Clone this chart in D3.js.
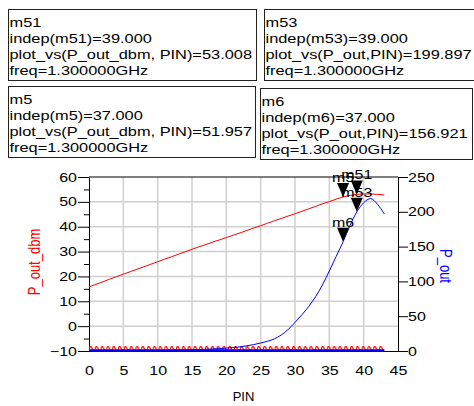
<!DOCTYPE html>
<html>
<head>
<meta charset="utf-8">
<script src="https://cdn.jsdelivr.net/npm/d3@7"></script>
<style>
  body { margin: 0; background: #fff; }
  svg { display: block; font-family: "Liberation Sans", Arial, sans-serif; }
</style>
</head>
<body>
<div id="chart"></div>
<script>
// swept input power, dBm
const pin = [0,1,2,3,4,5,6,7,8,9,10,11,12,13,14,15,16,17,18,19,20,21,22,23,24,25,26,27,28,29,30,31,32,33,34,35,36,37,38,39,40,41,42,43];
// P_out_dbm (left axis)
const poutDbm = [15.8,16.8,17.8,18.9,19.9,20.9,21.9,22.9,23.9,24.9,25.9,26.9,27.9,28.9,29.9,30.9,31.9,32.8,33.8,34.7,35.6,36.6,37.5,38.5,39.5,40.4,41.4,42.4,43.3,44.3,45.2,46.2,47.2,48.2,49.2,50.1,51.1,51.957,52.6,53.008,53.2,53.2,53.0,52.8];
// P_out in W (right axis)
const pout = [0.1,0.1,0.1,0.2,0.2,0.3,0.3,0.4,0.5,0.6,0.7,0.8,1.0,1.2,1.4,1.7,2.0,2.4,2.9,3.5,4.2,5.0,6.0,7.5,9.2,11.5,14,17.5,23,31,41,52,64,78,95,115,136,156.921,180,199.897,213,219,211,197];

const xTicks = [0,5,10,15,20,25,30,35,40,45];
const leftTicks = [-10,0,10,20,30,40,50,60];
const leftMinor = [-5,5,15,25,35,45,55];
const rightTicks = [0,50,100,150,200,250];

const markers = [
  {name: "m5",  x: 37, y: 51.957,  axis: "left"},
  {name: "m51", x: 39, y: 53.008,  axis: "left"},
  {name: "m6",  x: 37, y: 156.921, axis: "right"},
  {name: "m53", x: 39, y: 199.897, axis: "right"}
];

const boxes = [
  {x: 8,   y: 9,  w: 248, h: 71, lines: ["m51", "indep(m51)=39.000", "plot_vs(P_out_dbm, PIN)=53.008", "freq=1.300000GHz"]},
  {x: 264, y: 9,  w: 220, h: 71, lines: ["m53", "indep(m53)=39.000", "plot_vs(P_out,PIN)=199.897", "freq=1.300000GHz"]},
  {x: 8,   y: 86, w: 247, h: 71, lines: ["m5", "indep(m5)=37.000", "plot_vs(P_out_dbm, PIN)=51.957", "freq=1.300000GHz"]},
  {x: 260, y: 88, w: 212, h: 71, lines: ["m6", "indep(m6)=37.000", "plot_vs(P_out,PIN)=156.921", "freq=1.300000GHz"]}
];

const W = 474, H = 406;
const margin = {top: 177, right: 76, bottom: 55, left: 89};
const SX = 1.28; // text in the picture is a bit wide

const x = d3.scaleLinear().domain([0, 45]).range([margin.left, W - margin.right]);
const yL = d3.scaleLinear().domain([-10, 60]).range([H - margin.bottom, margin.top]);
const yR = d3.scaleLinear().domain([0, 250]).range([H - margin.bottom, margin.top]);

const svg = d3.select("#chart").append("svg")
  .attr("width", W).attr("height", H)
  .attr("viewBox", `0 0 ${W} ${H}`);

// wide text helper
function wide(sel) {
  sel.each(function() {
    const t = d3.select(this);
    const tx = +t.attr("x") || 0, ty = +t.attr("y") || 0;
    t.attr("x", null).attr("y", null)
      .attr("transform", `translate(${tx},${ty}) scale(${SX},1)`);
  });
}

// marker readout boxes
const bx = svg.append("g").attr("class", "boxes");
boxes.forEach(b => {
  bx.append("rect")
    .attr("x", b.x + 0.5).attr("y", b.y + 0.5)
    .attr("width", b.w).attr("height", b.h)
    .attr("fill", "#fff").attr("stroke", "#222").attr("stroke-width", 1);
  bx.selectAll(null).data(b.lines).enter().append("text")
    .attr("x", b.x + 1.5)
    .attr("y", (d, i) => b.y + 18 + i * 16)
    .attr("font-size", 12.8)
    .attr("fill", "#000")
    .text(d => d)
    .call(wide);
});

// grid
const grid = svg.append("g").attr("class", "grid");
grid.selectAll(".gx").data(xTicks.slice(1, -1)).enter().append("line")
  .attr("x1", d => x(d)).attr("x2", d => x(d))
  .attr("y1", yL(60)).attr("y2", yL(-10))
  .attr("stroke", "#cfcfcf").attr("stroke-width", 1.5);
grid.selectAll(".gy").data(leftTicks.slice(1, -1)).enter().append("line")
  .attr("x1", x(0)).attr("x2", x(45))
  .attr("y1", d => yL(d)).attr("y2", d => yL(d))
  .attr("stroke", "#cfcfcf").attr("stroke-width", 1.5);

// top frame line
svg.append("line")
  .attr("x1", x(0)).attr("x2", x(45))
  .attr("y1", yL(60)).attr("y2", yL(60))
  .attr("stroke", "#000");

// axes
function styleAxis(g) {
  g.select(".domain").attr("stroke", "#000");
  g.selectAll(".tick line").attr("stroke", "#000");
  g.selectAll("text").attr("font-size", 12.5).attr("fill", "#000")
    .attr("font-family", "Liberation Sans, Arial, sans-serif");
}

svg.append("g")
  .attr("transform", `translate(0,${yL(-10)})`)
  .call(d3.axisBottom(x).tickValues(xTicks).tickSize(0).tickPadding(15).tickSizeOuter(0))
  .call(styleAxis)
  .call(g => g.selectAll("text").call(wide));

svg.append("g")
  .attr("transform", `translate(${x(0)},0)`)
  .call(d3.axisLeft(yL).tickValues(leftMinor).tickSize(5).tickFormat("").tickSizeOuter(0))
  .call(styleAxis);

svg.append("g")
  .attr("transform", `translate(${x(0)},0)`)
  .call(d3.axisLeft(yL).tickValues(leftTicks).tickSize(11).tickPadding(1).tickSizeOuter(0))
  .call(styleAxis)
  .call(g => g.selectAll("text").attr("text-anchor", "start").each(function() {
    const t = d3.select(this);
    const w = this.getComputedTextLength() * SX;
    t.attr("x", -12 - w);
  }).call(wide));

svg.append("g")
  .attr("transform", `translate(${x(45)},0)`)
  .call(d3.axisRight(yR).tickValues(rightTicks).tickSize(10).tickPadding(0).tickSizeOuter(0))
  .call(styleAxis)
  .call(g => g.selectAll("text").call(wide));

// axis titles
svg.append("text")
  .attr("transform", `translate(40,262) scale(${SX},1) rotate(-90)`)
  .attr("text-anchor", "middle")
  .attr("font-size", 13).attr("fill", "#ff0000")
  .text("P_out_dbm");

svg.append("text")
  .attr("transform", `translate(440,266) scale(${SX},1) rotate(90)`)
  .attr("text-anchor", "middle")
  .attr("font-size", 13).attr("fill", "#0000ff")
  .text("P_out");

svg.append("text")
  .attr("x", (x(0) + x(45)) / 2).attr("y", 401)
  .attr("text-anchor", "middle")
  .attr("font-size", 13).attr("fill", "#000")
  .text("PIN");

// baseline traces at the bottom of the plot
const wave = svg.append("defs").append("pattern")
  .attr("id", "wave").attr("patternUnits", "userSpaceOnUse")
  .attr("x", x(0)).attr("y", yL(-10) - 6)
  .attr("width", 5.8).attr("height", 6);
wave.append("path")
  .attr("d", "M0,5 C0.6,0.8 2.3,0.8 2.9,3.2 C3.5,5.4 5.2,5.4 5.8,5")
  .attr("fill", "none").attr("stroke", "#ff0000").attr("stroke-width", 1.3);

svg.append("rect")
  .attr("x", x(0)).attr("y", yL(-10) - 6)
  .attr("width", x(43) - x(0)).attr("height", 6)
  .attr("fill", "url(#wave)");

svg.append("line")
  .attr("x1", x(0)).attr("x2", x(43))
  .attr("y1", yR(0) - 0.5).attr("y2", yR(0) - 0.5)
  .attr("stroke", "#0000ff").attr("stroke-width", 2.5);

// traces
const lineL = d3.line().x((d, i) => x(pin[i])).y(d => yL(d));
const lineR = d3.line().x((d, i) => x(pin[i])).y(d => yR(d)).curve(d3.curveMonotoneX);

svg.append("path")
  .attr("d", lineL(poutDbm))
  .attr("fill", "none").attr("stroke", "#ff0000").attr("stroke-width", 1);

svg.append("path")
  .attr("d", lineR(pout))
  .attr("fill", "none").attr("stroke", "#0000ff").attr("stroke-width", 1);

// markers
const mk = svg.append("g").selectAll("g").data(markers).enter().append("g")
  .attr("transform", d => `translate(${x(d.x)},${d.axis === "left" ? yL(d.y) : yR(d.y)})`);
mk.append("path")
  .attr("d", "M0,0 L-6,-14 L6,-14 Z")
  .attr("fill", "#000");
mk.append("text")
  .attr("text-anchor", "middle")
  .attr("font-size", 12.5).attr("fill", "#000")
  .attr("transform", `translate(0,-15) scale(${SX},1)`)
  .text(d => d.name);
</script>
</body>
</html>
